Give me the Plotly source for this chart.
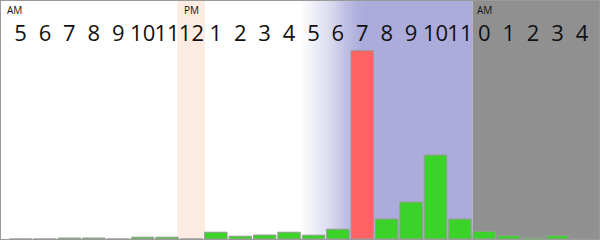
import plotly.graph_objects as go

# Hour labels, one column per hour from 5 AM to 4 AM the next morning
hours = ["5", "6", "7", "8", "9", "10", "11", "12", "1", "2", "3", "4",
         "5", "6", "7", "8", "9", "10", "11", "0", "1", "2", "3", "4"]
# Activity per hour
activity = [0, 0, 0.5, 0.5, 0, 0.9, 0.9, 0, 3.4, 1.4, 2.0, 3.4,
            1.9, 4.9, 94.2, 10.0, 18.5, 42.0, 10.0, 3.9, 1.7, 0.7, 1.7, 0]
# Hour that is highlighted
peak_hour = 14
# Half-day markers: column index and text
period_cols = [-0.27, 7, 19]
period_text = ["AM", "PM", "AM"]

x = list(range(len(hours)))
GREEN = "rgb(59,211,42)"
RED = "rgb(255,99,99)"
BLUE = (171, 171, 220)
colors = [RED if i == peak_hour else GREEN for i in x]

fig = go.Figure()
fig.add_trace(go.Bar(
    x=x, y=activity,
    marker=dict(color=colors, line=dict(color="#9a9a9a", width=1)),
    width=0.92,
    hoverinfo="skip",
))

shapes = []
# noon band
shapes.append(dict(type="rect", xref="x", yref="paper", x0=6.42, x1=7.55, y0=0, y1=1,
                   fillcolor="rgb(254,235,225)", line=dict(width=0), layer="below"))
# evening fade from white into blue
g0, g1, steps = 11.45, 13.95, 60
for k in range(steps):
    t = (k + 0.5) / steps
    r = round(255 + (BLUE[0] - 255) * t)
    g = round(255 + (BLUE[1] - 255) * t)
    b = round(255 + (BLUE[2] - 255) * t)
    xa = g0 + (g1 - g0) * k / steps
    xb = g0 + (g1 - g0) * (k + 1) / steps + 0.01
    shapes.append(dict(type="rect", xref="x", yref="paper", x0=xa, x1=xb, y0=0, y1=1,
                       fillcolor=f"rgb({r},{g},{b})", line=dict(width=0), layer="below"))
shapes.append(dict(type="rect", xref="x", yref="paper", x0=g1, x1=18.52, y0=0, y1=1,
                   fillcolor="rgb(%d,%d,%d)" % BLUE, line=dict(width=0), layer="below"))
# night band
shapes.append(dict(type="rect", xref="x", yref="paper", x0=18.52, x1=24, y0=0, y1=1,
                   fillcolor="rgb(144,144,144)", line=dict(width=0), layer="below"))
# frame
shapes.append(dict(type="rect", xref="paper", yref="paper", x0=0, x1=1, y0=0, y1=1,
                   line=dict(color="#9a9a9a", width=2), layer="above"))

annotations = [
    dict(x=c, y=1, xref="x", yref="paper", text=t, showarrow=False,
         xanchor="center", yanchor="top", yshift=-1,
         font=dict(family="Open Sans", size=10, color="#111"))
    for c, t in zip(period_cols, period_text)
]

fig.update_layout(
    width=600, height=240, autosize=False,
    margin=dict(l=0, r=0, t=0, b=0, pad=0),
    paper_bgcolor="white", plot_bgcolor="white",
    showlegend=False,
    shapes=shapes,
    annotations=annotations,
    xaxis=dict(
        range=[-0.844, 23.74], side="top", ticklabelposition="inside",
        tickmode="array", tickvals=x, ticktext=hours, ticks="",
        tickangle=0, ticklabelstandoff=23,
        tickfont=dict(family="Open Sans", size=22, color="#111"),
        showgrid=False, zeroline=False, showline=False, fixedrange=True,
    ),
    yaxis=dict(range=[-0.5, 119.5], visible=False, showgrid=False, zeroline=False),
)

fig.write_html("out.html")
